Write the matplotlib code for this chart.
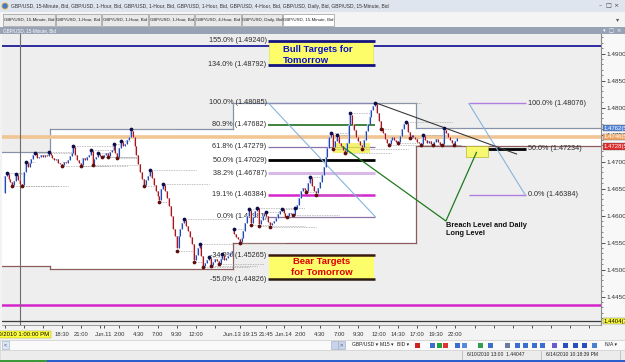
import numpy as np
import matplotlib.pyplot as plt
from matplotlib.patches import Rectangle
from matplotlib.transforms import blended_transform_factory

plt.rcParams['font.family'] = ['Liberation Sans', 'DejaVu Sans']

# ============================================================
# DATA  (GBP/USD 15-minute bars, Jun 10 11:00 -> Jun 14 22:15)
# ============================================================

first_open = 1.4642
sunday_open = 1.4575      # first bar after the weekend gap
sunday_bar = 120

close = [
    1.4674, 1.4677, 1.4668, 1.4662, 1.4657, 1.4664, 1.4676, 1.4666, 1.4659, 1.4656,
    1.4680, 1.4698, 1.4690, 1.4697, 1.4705, 1.4712, 1.4715, 1.4706, 1.4709, 1.4712,
    1.4708, 1.4713, 1.4710, 1.4716, 1.4712, 1.4706, 1.4702, 1.4704, 1.4698, 1.4695,
    1.4693, 1.4699, 1.4697, 1.4702, 1.4710, 1.4715, 1.4727, 1.4712, 1.4703, 1.4698,
    1.4694, 1.4706, 1.4702, 1.4708, 1.4712, 1.4720, 1.4696, 1.4704, 1.4709, 1.4714,
    1.4711, 1.4709, 1.4713, 1.4716, 1.4710, 1.4718, 1.4722, 1.4730, 1.4715, 1.4708,
    1.4725, 1.4737, 1.4728, 1.4733, 1.4740, 1.4746, 1.4757, 1.4745, 1.4728, 1.4712,
    1.4695, 1.4680, 1.4668, 1.4657, 1.4665, 1.4674, 1.4682, 1.4670, 1.4656, 1.4645,
    1.4636, 1.4629, 1.4650, 1.4657, 1.4645, 1.4632, 1.4618, 1.4600, 1.4575, 1.4562,
    1.4540, 1.4562, 1.4575, 1.4586, 1.4591, 1.4580, 1.4571, 1.4560, 1.4548, 1.4517,
    1.4528, 1.4540, 1.4545, 1.4525, 1.4506, 1.4512, 1.4518, 1.4521, 1.4509, 1.4515,
    1.4520, 1.4516, 1.4511, 1.4519, 1.4527, 1.4518, 1.4522, 1.4526, 1.4531, 1.4534,
    # Sunday Jun 13 / Monday Jun 14
    1.4566, 1.4560, 1.4556, 1.4552, 1.4558, 1.4572, 1.4586, 1.4600, 1.4611, 1.4586,
    1.4598, 1.4608, 1.4614, 1.4584, 1.4592, 1.4600, 1.4604, 1.4600, 1.4588, 1.4582,
    1.4586, 1.4590, 1.4595, 1.4603, 1.4609, 1.4612, 1.4604, 1.4598, 1.4600, 1.4605,
    1.4603, 1.4602, 1.4613, 1.4620, 1.4632, 1.4645, 1.4652, 1.4648, 1.4645, 1.4660,
    1.4670, 1.4655, 1.4645, 1.4641, 1.4652, 1.4663, 1.4675, 1.4690, 1.4708, 1.4725,
    1.4745, 1.4751, 1.4727, 1.4738, 1.4747, 1.4735, 1.4728, 1.4722, 1.4718, 1.4735,
    1.4768, 1.4786, 1.4770, 1.4758, 1.4746, 1.4738, 1.4730, 1.4727, 1.4740, 1.4756,
    1.4770, 1.4782, 1.4795, 1.4803, 1.4806, 1.4790, 1.4775, 1.4762, 1.4752, 1.4742,
    1.4734, 1.4733, 1.4740, 1.4745, 1.4740, 1.4736, 1.4736, 1.4748, 1.4760, 1.4770,
    1.4771, 1.4755, 1.4745, 1.4750, 1.4746, 1.4741, 1.4737, 1.4734, 1.4732, 1.4747,
    1.4740, 1.4735, 1.4738, 1.4732, 1.4731, 1.4737, 1.4741, 1.4736, 1.4731, 1.4732,
    1.4759, 1.4752, 1.4745, 1.4740, 1.4735, 1.4731, 1.4738, 1.4744,
]

swing_high_bar = [1, 6, 11, 16, 23, 36, 45, 49, 57, 61, 66, 76, 83, 94, 102, 107, 114,
                  120, 128, 132, 137, 145, 152, 160, 171, 174, 181, 194, 210, 219, 230]
swing_high = [1.4678, 1.4677, 1.4700, 1.4716, 1.4718, 1.4729, 1.4722, 1.4716, 1.4732,
              1.4739, 1.4760, 1.4684, 1.4659, 1.4593, 1.4547, 1.4523, 1.4529,
              1.4575, 1.4613, 1.4615, 1.4606, 1.4613, 1.4615, 1.4672, 1.4753, 1.4749,
              1.4789, 1.4809, 1.4773, 1.4749, 1.4762]

swing_low_bar = [4, 9, 30, 40, 46, 51, 54, 59, 73, 81, 90, 99, 104, 108, 112,
                 123, 129, 133, 139, 148, 151, 158, 163, 172, 178, 187, 197, 201, 206,
                 212, 218, 224, 229, 235]
swing_low = [1.4655, 1.4655, 1.4692, 1.4692, 1.4694, 1.4708, 1.4708, 1.4706, 1.4654,
             1.4626, 1.4535, 1.4514, 1.4504, 1.4507, 1.4510,
             1.4550, 1.4583, 1.4581, 1.4579, 1.4597, 1.4601, 1.4644, 1.4639, 1.4724,
             1.4715, 1.4724, 1.4760, 1.4731, 1.4734, 1.4743, 1.4730, 1.4730, 1.4730,
             1.4730]

# trading days (Jun 10, Jun 11, Jun 14, Jun 15)
day_first_bar = [0, 24, 120, 216]
day_high = [1.4718, 1.4761, 1.4809, 1.4762]
day_low = [1.4507, 1.4502, 1.4550, 1.4728]

fib_a_bars = [138, 194]
fib_a_pct = ["155.0%", "134.0%", "100.0%", "80.9%", "61.8%", "50.0%", "38.2%",
             "19.1%", "0.0%", "-34.0%", "-55.0%"]
fib_a_price = [1.49240, 1.48792, 1.48085, 1.47682, 1.47279, 1.47029, 1.46787,
               1.46384, 1.45981, 1.45265, 1.44826]

fib_b_bars = [243, 273]
fib_b_pct = ["100.0%", "50.0%", "0.0%"]
fib_b_price = [1.48076, 1.47234, 1.46384]

resistance_level = 1.4913
support_level = 1.4435
pivot_level = 1.4746
crosshair_bar = 8
crosshair_price = 1.44047

trend_bars = [194, 268]
trend_price = [1.4809, 1.4714]
breach_bars = [177, 231, 247]
breach_price = [1.4727, 1.4590, 1.4717]
zone_a_bars = [172, 191]
zone_a_price = [1.4716, 1.4734]
zone_b_bars = [241.5, 253]
zone_b_price = [1.4709, 1.4728]

time_tick_bars = [0, 10, 20, 30, 40, 50, 52, 60, 70, 80, 90, 100, 110,
                  123, 137, 146, 155, 165, 175, 185, 196, 206, 216, 226, 236,
                  246, 256, 266, 276, 286, 296, 306]
time_tick_labels = ["", "", "16:00", "18:30", "21:00", "", "Jun.11", "2:00", "4:30",
                    "7:00", "9:30", "12:00", "",
                    "Jun.13 19:15", "21:45", "Jun.14", "2:00", "4:30", "7:00", "9:30",
                    "12:00", "14:30", "17:00", "19:30", "22:00",
                    "", "", "", "", "", "", ""]

price_ticks = [1.4450, 1.4500, 1.4550, 1.4600, 1.4650, 1.4700, 1.4750, 1.4800, 1.4850, 1.4900]

tag_price = [1.4762, 1.4746, 1.4728, 1.44047]
tag_text = ["1.4762(5)", "1.4746(5)", "1.4728(5)", "1.4404(7)"]

# ============================================================
# LAYOUT (pixel geometry of the screenshot)
# ============================================================

W, H = 625, 362
PX_L, PX_R, PX_T, PX_B = 2, 601, 34, 325
BAR0_PX, BAR_PX = 4.7, 1.91
PRICE_REF, PRICE_REF_PX, PX_PER_PRICE = 1.4900, 53.5, 5404.0


def bar_at(px):
    return (px - BAR0_PX) / BAR_PX


def price_at(py):
    return PRICE_REF - (py - PRICE_REF_PX) / PX_PER_PRICE


fig = plt.figure(figsize=(W / 100, H / 100), dpi=100, facecolor='#f3f3f3')

# ---------------- window chrome ----------------
chrome = fig.add_axes([0, 0, 1, 1])
chrome.set_xlim(0, W)
chrome.set_ylim(H, 0)
chrome.axis('off')

chrome.add_patch(Rectangle((0, 0), W, 12, fc='#dfe5ee', ec='none'))
chrome.add_patch(plt.Circle((5, 6), 3, fc='#3a7bd5', ec='#e0a020', lw=0.6))
chrome.text(11, 6.2, ", ".join(["GBP/USD, 15-Minute, Bid", "GBP/USD, 1-Hour, Bid",
                                 "GBP/USD, 1-Hour, Bid", "GBP/USD, 1-Hour, Bid",
                                 "GBP/USD, 4-Hour, Bid", "GBP/USD, Daily, Bid",
                                 "GBP/USD, 15-Minute, Bid"]),
            fontsize=3.6, color='#333333', va='center', ha='left')
for xx, s in zip([600, 608, 616], ["–", "□", "×"]):
    chrome.text(xx, 6, s, fontsize=4.5, color='#444444', ha='center', va='center',
                family='DejaVu Sans')

chrome.add_patch(Rectangle((0, 12), W, 15, fc='#f4f4f4', ec='none'))
tab_labels = ["GBP/USD, 15-Minute, Bid", "GBP/USD, 1-Hour, Bid", "GBP/USD, 1-Hour, Bid",
              "GBP/USD, 1-Hour, Bid", "GBP/USD, 4-Hour, Bid", "GBP/USD, Daily, Bid",
              "GBP/USD, 15-Minute, Bid"]
tab_edges = [3, 56, 102, 149, 195, 242, 283, 335]
for k, lab in enumerate(tab_labels):
    x0, x1 = tab_edges[k], tab_edges[k + 1] - 1
    active = k == len(tab_labels) - 1
    chrome.add_patch(Rectangle((x0, 14), x1 - x0, 11.5, fc='white' if active else '#e9e9e9',
                               ec='#9a9a9a', lw=0.5))
    chrome.text((x0 + x1) / 2, 19.8, lab, fontsize=3.2, color='#222222',
                ha='center', va='center')
chrome.text(618, 19.5, "▾", fontsize=4.5, color='#555555', ha='center', va='center')

chrome.add_patch(Rectangle((0, 27), W, 7, fc='#97a2b4', ec='none'))
chrome.text(3, 30.6, "GBP/USD, 15-Minute, Bid", fontsize=3.3, color='white', va='center')
for xx, s in zip([604, 611, 618], ["▾", "□", "×"]):
    chrome.text(xx, 30.5, s, fontsize=3.8, color='white', ha='center', va='center',
                family='DejaVu Sans')

chrome.add_patch(Rectangle((PX_R, PX_T), W - PX_R, PX_B - PX_T, fc='#f8f8f8', ec='none'))

# scroll / toolbar row
chrome.add_patch(Rectangle((0, 340), W, 10, fc='#fafafa', ec='#cccccc', lw=0.5))
chrome.add_patch(Rectangle((2, 341), 7, 8, fc='#dde6f3', ec='#9aaac0', lw=0.4))
chrome.text(5.5, 345, "<", fontsize=4, color='#334466', ha='center', va='center')
chrome.add_patch(Rectangle((331, 341), 7, 8, fc='#c8d4ea', ec='#9aaac0', lw=0.4))
chrome.add_patch(Rectangle((338, 341), 7, 8, fc='#c8d4ea', ec='#9aaac0', lw=0.4))
chrome.text(341.5, 345, ">", fontsize=4, color='#334466', ha='center', va='center')
for xx, s in zip([352, 380, 397, 605], ["GBP/USD ▾", "M15 ▾", "BID ▾", "N/A ▾"]):
    chrome.text(xx, 345, s, fontsize=3.6, color='#222222', va='center')
icon_x = [415, 430, 437, 443, 455, 462, 478, 488, 505, 515, 523, 532, 540, 552,
          563, 573, 582, 592]
icon_c = ['#cc2222', '#3a6fd0', '#22a040', '#dd3333', '#3a6fd0', '#5a8ae0', '#30a050',
          '#3a6fd0', '#6a7aa0', '#3a6fd0', '#3a6fd0', '#3a6fd0', '#3a6fd0', '#6a5ad0',
          '#2a50c0', '#2a50c0', '#2a50c0', '#4a80d0']
for xx, cc in zip(icon_x, icon_c):
    chrome.add_patch(Rectangle((xx, 342.5), 4.5, 5, fc=cc, ec='none'))

# status row
chrome.add_patch(Rectangle((0, 350), W, 9.5, fc='#ececec', ec='#d0d0d0', lw=0.4))
chrome.text(467, 355, "6/10/2010 13:00  1.44047", fontsize=3.6, color='#222222', va='center')
chrome.text(546, 355, "6/14/2010 10:18:39 PM", fontsize=3.6, color='#222222', va='center')
for xx in [462, 541, 620]:
    chrome.plot([xx, xx], [351, 358.5], color='#b0b0b0', lw=0.5)
chrome.add_patch(Rectangle((0, 359.5), 47, 3, fc='#3a9a3a', ec='none'))
chrome.add_patch(Rectangle((47, 359.5), W - 47, 3, fc='#2a5fd0', ec='none'))

# ---------------- chart ----------------
ax = fig.add_axes([PX_L / W, 1 - PX_B / H, (PX_R - PX_L) / W, (PX_B - PX_T) / H])
ax.set_xlim(bar_at(PX_L), bar_at(PX_R))
ax.set_ylim(price_at(PX_B), price_at(PX_T))
ax.set_facecolor('#eeeeee')
x_left, x_right = ax.get_xlim()

# daily high / low range boxes
HI_C, LO_C = '#8792a8', '#8a5c5c'
starts = [x_left] + [b - 0.5 for b in day_first_bar[1:]]
ends = [b - 0.5 for b in day_first_bar[1:]] + [x_right]
for s, e, hi, lo in zip(starts, ends, day_high, day_low):
    ax.add_patch(Rectangle((s, lo), e - s, hi - lo, fc='white', ec='none', zorder=0.5))
    ax.plot([s, e], [hi, hi], color=HI_C, lw=0.9, zorder=1)
    ax.plot([s, e], [lo, lo], color=LO_C, lw=0.9, zorder=1)
for k in range(1, len(day_high)):
    b = starts[k]
    ax.plot([b, b], [day_high[k - 1], day_high[k]], color=HI_C, lw=0.9, zorder=1)
    ax.plot([b, b], [day_low[k - 1], day_low[k]], color=LO_C, lw=0.9, zorder=1)

# full-width horizontal levels
ax.axhline(resistance_level, color='#1c1c96', lw=1.3, zorder=1.5)
ax.axhline(support_level, color='#d424cc', lw=1.8, zorder=1.5)
ax.axhline(pivot_level, color='#f1c594', lw=2.6, zorder=1.5)

# crosshair
ax.axvline(crosshair_bar, color='#6e6e6e', lw=0.8, zorder=2)
ax.axhline(crosshair_price, color='#3c3c3c', lw=0.9, zorder=2)

# left fibonacci
fib_a_colors = ['#14147e', '#14147e', '#8a88b8', '#1e6e1e', '#8c70a8', '#000000',
                '#d8b8e8', '#d424cc', '#8c70a8', '#3a1a10', '#2a1a10']
fib_a_widths = [2.0, 2.0, 0.9, 1.2, 0.9, 2.0, 2.2, 1.8, 0.9, 1.8, 1.8]
fa0, fa1 = fib_a_bars
ax.add_patch(Rectangle((fa0 + 0.5, fib_a_price[1]), fa1 - fa0 - 1.5,
                       fib_a_price[0] - fib_a_price[1], fc='#fdfd6a', ec='#e8e850',
                       lw=0.5, zorder=2.2))
ax.add_patch(Rectangle((fa0 + 0.5, fib_a_price[10]), fa1 - fa0 - 1.0,
                       fib_a_price[9] - fib_a_price[10], fc='#fdfd6a', ec='none', zorder=2.2))
for pct, p, c, lw in zip(fib_a_pct, fib_a_price, fib_a_colors, fib_a_widths):
    ax.plot([fa0, fa1], [p, p], color=c, lw=lw, zorder=2.5, solid_capstyle='butt')
    ax.annotate(f"{pct} ({p:.5f})", (fa0, p), xytext=(-1.2, 0), textcoords='offset points',
                ha='right', va='center', fontsize=5.2, color='#2a2a2a', zorder=2.4)
ax.plot(fib_a_bars, [fib_a_price[2], fib_a_price[8]], color='#86b4da', lw=0.8, zorder=2.6)

ax.text(fa0 + 7.7, fib_a_price[0] - 0.0008, "Bull Targets for\nTomorrow", ha='left', va='top',
        fontsize=6.8, fontweight='bold', color='#0a10c8', linespacing=1.35, zorder=6)
ax.text((fa0 + fa1) / 2, (fib_a_price[9] + fib_a_price[10]) / 2, "Bear Targets\nfor Tomorrow",
        ha='center', va='center', fontsize=6.8, fontweight='bold', color='#dd0000',
        linespacing=1.3, zorder=6)

# right fibonacci
fib_b_colors = ['#b07ee0', '#000000', '#b07ee0']
fib_b_widths = [1.0, 2.0, 1.0]
fb0, fb1 = fib_b_bars
for pct, p, c, lw in zip(fib_b_pct, fib_b_price, fib_b_colors, fib_b_widths):
    ax.plot([fb0, fb1], [p, p], color=c, lw=lw, zorder=2.5, solid_capstyle='butt')
    ax.annotate(f"{pct} ({p:.5f})", (fb1, p), xytext=(1.5, 0), textcoords='offset points',
                ha='left', va='center', fontsize=5.2, color='#2a2a2a', zorder=2.4)
ax.plot([fb0, fb1 - 0.5], [fib_b_price[0], fib_b_price[2]], color='#86b4da', lw=0.8, zorder=2.6)

# highlighted zones
ax.add_patch(Rectangle((zone_a_bars[0], zone_a_price[0]), zone_a_bars[1] - zone_a_bars[0],
                       zone_a_price[1] - zone_a_price[0], fc='#f0f040', alpha=0.75,
                       ec='none', zorder=3))
ax.add_patch(Rectangle((zone_b_bars[0], zone_b_price[0]), zone_b_bars[1] - zone_b_bars[0],
                       zone_b_price[1] - zone_b_price[0], fc='#f8f870', ec='#b8b830',
                       lw=0.5, zorder=3))

# candles
opens = [first_open] + close[:-1]
opens[sunday_bar] = sunday_open
idx = np.arange(len(close))
o = np.array(opens)
c = np.array(close)
lo = np.minimum(o, c)
hi = np.maximum(np.maximum(o, c), lo + 0.00012)
up = c >= o
ax.vlines(idx[up], lo[up], hi[up], color='#b0c2ea', lw=1.6, zorder=3.8)
ax.vlines(idx[~up], lo[~up], hi[~up], color='#eab0ba', lw=1.6, zorder=3.8)
ax.vlines(idx[up], lo[up], hi[up], color='#2448b0', lw=0.75, zorder=4)
ax.vlines(idx[~up], lo[~up], hi[~up], color='#a01a1a', lw=0.75, zorder=4)


def dotted_end(k, level, above):
    for j in range(k + 1, min(k + 24, len(close))):
        if (above and close[j] > level) or (not above and close[j] < level):
            return max(j, k + 5)
    return min(k + 24, len(close) + 1)


for k, p in zip(swing_high_bar, swing_high):
    ax.plot([k, dotted_end(k, p, True)], [p, p], color='#9a9a9a', lw=0.55,
            ls=(0, (1, 1.2)), zorder=3.5)
for k, p in zip(swing_low_bar, swing_low):
    ax.plot([k, dotted_end(k, p, False)], [p, p], color='#9a9a9a', lw=0.55,
            ls=(0, (1, 1.2)), zorder=3.5)
ax.plot(swing_high_bar, swing_high, 'o', ms=2.7, color='#0c0c48', mew=0, zorder=5)
ax.plot(swing_low_bar, swing_low, 'o', ms=2.7, color='#5e0c0c', mew=0, zorder=5)

# hand drawn lines and note
ax.plot(trend_bars, trend_price, color='#3a3a3a', lw=0.8, zorder=4.5)
ax.plot(breach_bars, breach_price, color='#1f7a1f', lw=0.9, zorder=4.5)
ax.annotate("Breach Level and Daily\nLong Level", (breach_bars[1], breach_price[1]),
            xytext=(0, -1), textcoords='offset points', ha='left', va='top',
            fontsize=5.3, fontweight='bold', color='#111111', linespacing=1.15, zorder=6)

# axes, ticks
for side in ['left', 'top']:
    ax.spines[side].set_visible(False)
ax.spines['right'].set_color('#8a8a8a')
ax.spines['bottom'].set_color('#8a8a8a')
ax.spines['right'].set_linewidth(0.8)
ax.spines['bottom'].set_linewidth(0.6)

ax.yaxis.tick_right()
ax.set_yticks(price_ticks)
ax.set_yticklabels([f"{p:.4f}(0)" for p in price_ticks])
ax.set_yticks(np.arange(1.4410, 1.4936, 0.001), minor=True)
ax.tick_params(axis='y', which='major', length=3, width=0.6, pad=1, labelsize=4.6,
               colors='#333333')
ax.tick_params(axis='y', which='minor', length=1.5, width=0.5, colors='#555555')

ax.set_xticks(time_tick_bars)
ax.set_xticklabels(time_tick_labels)
ax.tick_params(axis='x', length=2.5, width=0.6, pad=2.5, labelsize=4.2, colors='#333333')

# price tags on the axis
tag_fc = ['#4f82d8', '#f2a868', '#e02a2a', '#ffff40']
tag_tc = ['white', 'white', 'white', 'black']
trans = blended_transform_factory(ax.transAxes, ax.transData)
for p, t, fc, tc in zip(tag_price, tag_text, tag_fc, tag_tc):
    ax.text(1.004, p, t, transform=trans, fontsize=4.3, color=tc, ha='left', va='center',
            bbox=dict(boxstyle='square,pad=0.12', fc=fc, ec='#606060', lw=0.3),
            clip_on=False, zorder=7)

# crosshair time tag (drawn above everything)
fig.text(20 / W, 1 - 334.5 / H, "6/10/2010 1:00:00 PM", fontsize=4.3, color='black',
         ha='center', va='center',
         bbox=dict(boxstyle='square,pad=0.2', fc='#ffff40', ec='#a0a000', lw=0.3))

fig.savefig("out.png", dpi=100, facecolor=fig.get_facecolor())
